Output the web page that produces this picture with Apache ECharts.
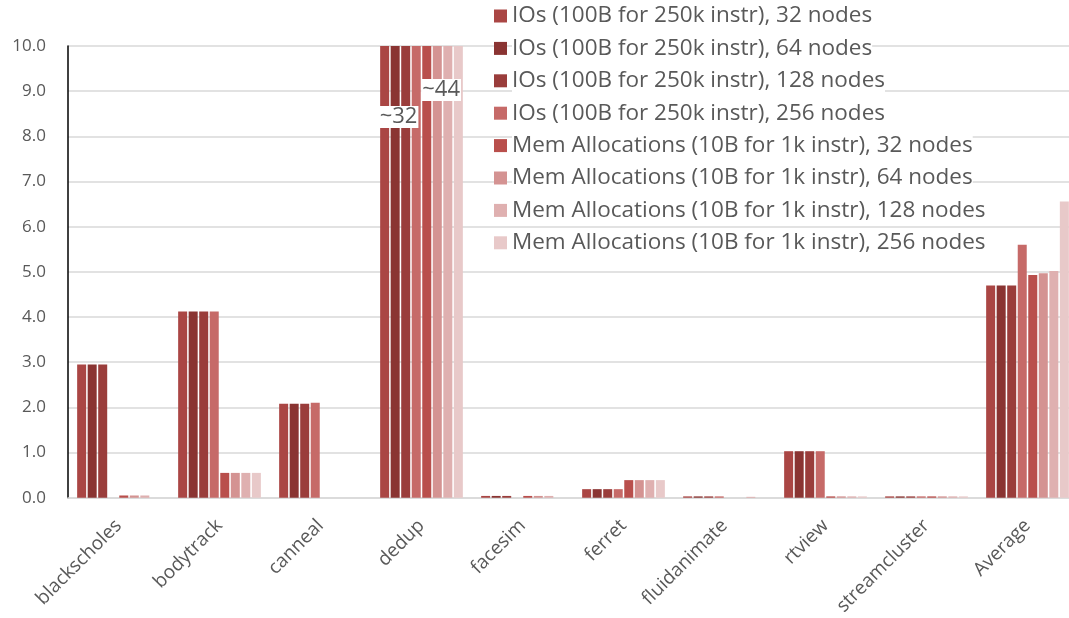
<!DOCTYPE html>
<html>
<head>
<meta charset="utf-8">
<script src="https://cdn.jsdelivr.net/npm/echarts@6/dist/echarts.min.js"></script>
<style>
  html, body { margin: 0; padding: 0; background: #fff; overflow: hidden; }
  /* the plot runs a little past the right edge of the window, as in the source */
  #chart { width: 1078px; height: 618px; }
</style>
</head>
<body>
<div id="chart"></div>
<script>
// categories on the x axis
const categories = ["blackscholes", "bodytrack", "canneal", "dedup", "facesim", "ferret", "fluidanimate", "rtview", "streamcluster", "Average"];

// IOs (100B for 250k instr)
const io32  = [2.95, 4.12, 2.08, 32, 0.04, 0.19, 0.03, 1.03, 0.03, 4.70];
const io64  = [2.95, 4.12, 2.08, 32, 0.04, 0.19, 0.03, 1.03, 0.03, 4.70];
const io128 = [2.95, 4.12, 2.08, 32, 0.04, 0.19, 0.03, 1.03, 0.03, 4.70];
const io256 = [0,    4.12, 2.10, 32, 0,    0.19, 0.03, 1.03, 0.03, 5.60];

// Mem Allocations (10B for 1k instr)
const mem32  = [0.05, 0.55, 0, 44, 0.04, 0.39, 0,    0.03, 0.03, 4.93];
const mem64  = [0.05, 0.55, 0, 44, 0.04, 0.39, 0,    0.03, 0.03, 4.97];
const mem128 = [0.05, 0.55, 0, 44, 0.04, 0.39, 0.02, 0.03, 0.03, 5.02];
const mem256 = [0,    0.55, 0, 44, 0,    0.39, 0,    0.03, 0.03, 6.56];

const seriesNames = [
  "IOs (100B for 250k instr), 32 nodes",
  "IOs (100B for 250k instr), 64 nodes",
  "IOs (100B for 250k instr), 128 nodes",
  "IOs (100B for 250k instr), 256 nodes",
  "Mem Allocations (10B for 1k instr), 32 nodes",
  "Mem Allocations (10B for 1k instr), 64 nodes",
  "Mem Allocations (10B for 1k instr), 128 nodes",
  "Mem Allocations (10B for 1k instr), 256 nodes"
];
const seriesData = [io32, io64, io128, io256, mem32, mem64, mem128, mem256];
const colors = ["#aa4644", "#8a3432", "#9a3d3b", "#c66a68", "#b94f4c", "#d49392", "#dfb0b0", "#e8c9c9"];

const yMin = 0, yMax = 10, yStep = 1;

// the two off-scale bars in dedup carry a "~value" label
const labelled = { 1: [-12, 60], 4: [-1, 33] };
const dedupIdx = categories.indexOf("dedup");

const font = "'Open Sans', Lato, sans-serif";

const series = seriesNames.map(function (name, i) {
  const data = seriesData[i].map(function (v, j) {
    if (j === dedupIdx && labelled[i]) {
      return {
        value: v,
        label: {
          show: true,
          position: labelled[i],
          formatter: "~{c}",
          fontSize: 22,
          fontFamily: font,
          color: "#595959",
          backgroundColor: "#fff",
          padding: [0, 1]
        }
      };
    }
    return v;
  });
  return {
    name: name,
    type: "bar",
    barWidth: 9,
    barGap: "17%",
    clip: true,
    itemStyle: { color: colors[i] },
    data: data
  };
});

const chart = echarts.init(document.getElementById("chart"));
chart.setOption({
  animation: false,
  grid: { left: 68, top: 46, right: 0, height: 455 },
  legend: {
    orient: "vertical",
    left: 494,
    top: 3,
    padding: 0,
    itemWidth: 13,
    itemHeight: 13,
    itemGap: 6.4,
    itemTextGap: 9,
    icon: "rect",
    textStyle: {
      fontSize: 22.5,
      fontFamily: font,
      color: "#595959",
      lineHeight: 26,
      backgroundColor: "#fff"
    },
    data: seriesNames
  },
  xAxis: {
    type: "category",
    data: categories,
    axisLine: { lineStyle: { color: "#d9d9d9", width: 1.5 } },
    axisTick: { show: false },
    axisLabel: {
      rotate: 45,
      margin: 25,
      fontSize: 19,
      fontFamily: font,
      color: "#595959"
    }
  },
  yAxis: {
    type: "value",
    min: yMin,
    max: yMax,
    interval: yStep,
    axisLine: { show: true, lineStyle: { color: "#000", width: 1.5 } },
    axisTick: { show: false },
    splitLine: { lineStyle: { color: "#d9d9d9", width: 1.5 } },
    axisLabel: {
      margin: 22,
      fontSize: 17,
      fontFamily: font,
      color: "#595959",
      formatter: function (v) { return v.toFixed(1); }
    }
  },
  series: series
});
</script>
</body>
</html>
